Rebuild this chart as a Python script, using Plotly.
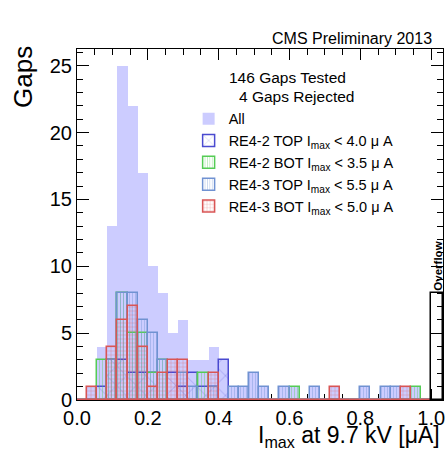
import numpy as np
import plotly.graph_objects as go

# ---- data (35 bins from 0 to 1, plus overflow) ----
n_bins = 35
x_min, x_max = 0.0, 1.0
all_counts =   [0, 1, 4, 13, 25, 22, 17, 10, 8, 5, 6, 3, 3, 4, 3, 1, 1, 2, 1, 0, 1, 1, 0, 1, 0, 1, 0, 0, 1, 0, 1, 1, 1, 1, 0]
re42_top =     [0, 0, 1, 3, 3, 2, 2, 2, 0, 2, 1, 2, 1, 1, 3, 0, 0, 0, 0, 0, 0, 0, 0, 0, 0, 0, 0, 0, 0, 0, 0, 0, 0, 0, 0]
re42_bot =     [0, 0, 3, 3, 8, 5, 5, 2, 3, 0, 0, 0, 2, 0, 0, 0, 0, 0, 0, 0, 0, 1, 0, 0, 0, 0, 0, 0, 0, 0, 0, 0, 0, 1, 0]
re43_top =     [0, 0, 0, 3, 8, 8, 6, 5, 3, 0, 2, 1, 0, 1, 0, 1, 1, 2, 1, 0, 1, 0, 0, 1, 0, 0, 0, 0, 1, 0, 1, 1, 0, 0, 0]
re43_bot =     [0, 1, 0, 4, 6, 7, 4, 1, 2, 3, 3, 0, 0, 2, 0, 0, 0, 0, 0, 0, 0, 0, 0, 0, 0, 1, 0, 0, 0, 0, 0, 0, 1, 0, 0]
overflow_count = [8]
overflow_width = 1.0 / 30

series_names = [
    "RE4-2 TOP I<sub>max</sub> &lt; 4.0 μ A",
    "RE4-2 BOT I<sub>max</sub> &lt; 3.5 μ A",
    "RE4-3 TOP I<sub>max</sub> &lt; 5.5 μ A",
    "RE4-3 BOT I<sub>max</sub> &lt; 5.0 μ A",
]
series_values = [re42_top, re42_bot, re43_top, re43_bot]
series_colors = ["#4a4ad0", "#55cc55", "#7092d2", "#d95555"]
series_patterns = ["x", "|", "|", "+"]
pattern_sizes = [14, 3, 3, 4]

x_ticks = [0.0, 0.2, 0.4, 0.6, 0.8, 1.0]
y_max = 26.25

edges = np.linspace(x_min, x_max, n_bins + 1)
centers = 0.5 * (edges[:-1] + edges[1:])
width = edges[1] - edges[0]

FONT = "Liberation Sans, Arial, Helvetica, sans-serif"

fig = go.Figure()
fig.add_trace(go.Bar(
    x=centers, y=all_counts, width=width, name="All",
    marker=dict(color="#ccccff", line=dict(width=0)),
))
for name, vals, col, pat, ps in zip(series_names, series_values, series_colors,
                                     series_patterns, pattern_sizes):
    fig.add_trace(go.Bar(
        x=centers, y=vals, width=width, name=name,
        marker=dict(color="rgba(0,0,0,0)",
                    line=dict(color=col, width=1.5),
                    pattern=dict(shape=pat, fgcolor=col, bgcolor="rgba(0,0,0,0)",
                                 size=ps, solidity=0.25 if pat != "x" else 0.08,
                                 fillmode="overlay")),
    ))
fig.add_trace(go.Bar(
    x=[x_max + overflow_width / 2], y=overflow_count, width=overflow_width,
    showlegend=False,
    marker=dict(color="rgba(0,0,0,0)", line=dict(color="black", width=1.5)),
))

fig.update_layout(
    width=446, height=451,
    margin=dict(l=77, r=1, t=49, b=51),
    barmode="overlay", bargap=0,
    paper_bgcolor="white", plot_bgcolor="white",
    font=dict(family=FONT, color="black"),
    showlegend=True,
    legend=dict(x=0.305, y=0.847, xanchor="left", yanchor="top",
                bgcolor="rgba(0,0,0,0)", font=dict(size=14.5, family=FONT),
                tracegroupgap=0),
    xaxis=dict(range=[x_min, x_max + overflow_width], tickvals=x_ticks,
               ticktext=[f"{v:.1f}" for v in x_ticks],
               ticks="inside", ticklen=11, tickwidth=1, tickcolor="black",
               showline=True, linecolor="black", linewidth=1, mirror="allticks",
               showgrid=False, zeroline=False, layer="below traces",
               ticklabeloverflow="allow",
               tickfont=dict(size=20, family=FONT),
               minor=dict(dtick=0.05, tick0=0, ticks="inside", ticklen=6,
                          tickcolor="black", showgrid=False)),
    yaxis=dict(range=[0, y_max], dtick=5, tick0=0,
               ticks="inside", ticklen=12, tickwidth=1, tickcolor="black",
               showline=True, linecolor="black", linewidth=1, mirror="allticks",
               showgrid=False, zeroline=False,
               tickfont=dict(size=20, family=FONT),
               minor=dict(dtick=1, tick0=0, ticks="inside", ticklen=6,
                          tickcolor="black", showgrid=False)),
)

annotations = [
    dict(text="CMS Preliminary 2013", xref="paper", yref="paper", x=0.9755, y=1.031,
         xanchor="right", yanchor="middle", showarrow=False, font=dict(size=16)),
    dict(text="Gaps", xref="paper", yref="paper", x=-0.148, y=0.92, textangle=-90,
         xanchor="center", yanchor="middle", showarrow=False, font=dict(size=26)),
    dict(text="I<sub>max</sub> at 9.7 kV [μA]", xref="paper", yref="paper",
         x=0.996, y=-0.056, xanchor="right", yanchor="top", showarrow=False,
         font=dict(size=23)),
    dict(text="146 Gaps Tested", xref="paper", yref="paper", x=0.41, y=0.918,
         xanchor="left", yanchor="middle", showarrow=False, font=dict(size=15.5)),
    dict(text="4 Gaps Rejected", xref="paper", yref="paper", x=0.436, y=0.866,
         xanchor="left", yanchor="middle", showarrow=False, font=dict(size=15.5)),
    dict(text="<b>Overflow</b>", x=x_max + overflow_width / 2, y=overflow_count[0],
         xref="x", yref="y", textangle=-90, xanchor="center", yanchor="bottom",
         showarrow=False, font=dict(size=11.5)),
]
fig.update_layout(annotations=annotations)

fig.write_html("out.html", post_script="document.body.style.margin='0';",
               config={"displayModeBar": False})
